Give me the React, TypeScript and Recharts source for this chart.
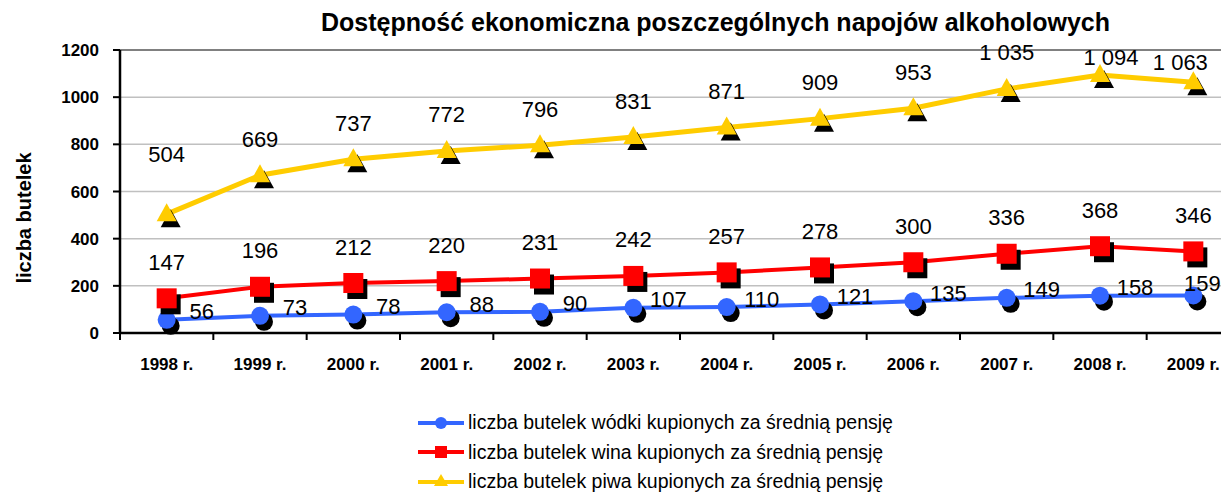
import React from "react";
import {
  CartesianGrid,
  LabelList,
  Line,
  LineChart,
  ReferenceLine,
  XAxis,
  YAxis,
} from "recharts";

const years = ["1998 r.", "1999 r.", "2000 r.", "2001 r.", "2002 r.", "2003 r.", "2004 r.", "2005 r.", "2006 r.", "2007 r.", "2008 r.", "2009 r."];
const vodka = [56, 73, 78, 88, 90, 107, 110, 121, 135, 149, 158, 159];
const wine = [147, 196, 212, 220, 231, 242, 257, 278, 300, 336, 368, 346];
const beer = [504, 669, 737, 772, 796, 831, 871, 909, 953, 1035, 1094, 1063];
const yTicks = [0, 200, 400, 600, 800, 1000, 1200];

const seriesNames = [
  "liczba butelek wódki kupionych za średnią pensję",
  "liczba butelek wina kupionych za średnią pensję",
  "liczba butelek piwa kupionych za średnią pensję",
];

const BLUE = "#3366FF";
const RED = "#FF0000";
const YELLOW = "#FFCC00";
const FONT = "'Liberation Sans', Arial, sans-serif";

const data = years.map((year, i) => ({
  x: i + 0.5,
  year,
  vodka: vodka[i],
  wine: wine[i],
  beer: beer[i],
}));

const fmt = (v: number) => (v >= 1000 ? `${Math.floor(v / 1000)} ${String(v % 1000).padStart(3, "0")}` : String(v));

function Marker({ cx, cy, shape, color }: any) {
  if (cx == null || cy == null) return null;
  const draw = (x: number, y: number, fill: string) => {
    if (shape === "circle") return <circle cx={x} cy={y} r={9} fill={fill} />;
    if (shape === "square") return <rect x={x - 10} y={y - 10} width={20} height={20} fill={fill} />;
    return <polygon points={`${x},${y - 11} ${x + 10},${y + 7} ${x - 10},${y + 7}`} fill={fill} />;
  };
  return (
    <g>
      {draw(cx + 4, cy + 6, "#000")}
      {draw(cx, cy, color)}
    </g>
  );
}

// label nudges that were moved by hand in the original
const beerLabelNudge: Record<number, [number, number]> = { 0: [0, -60], 10: [11, -17], 11: [-13, -20] };

function AboveLabel(props: any) {
  const { x, y, value, index, nudge } = props;
  const [dx, dy] = (nudge && nudge[index]) ?? [0, -36];
  return (
    <text x={x + dx} y={y + dy} textAnchor="middle" dominantBaseline="central" fontFamily={FONT} fontSize={22} fill="#000">
      {fmt(value)}
    </text>
  );
}

function RightLabel(props: any) {
  const { x, y, value, index } = props;
  const last = index === years.length - 1;
  return (
    <text x={x + (last ? 9 : 35)} y={y - (last ? 12 : 8)} textAnchor="middle" dominantBaseline="central" fontFamily={FONT} fontSize={22} fill="#000">
      {fmt(value)}
    </text>
  );
}

function LegendIcon({ shape, color }: { shape: string; color: string }) {
  return (
    <svg width={46} height={20} style={{ display: "block" }}>
      <line x1={0} y1={10} x2={46} y2={10} stroke={color} strokeWidth={4} />
      {shape === "circle" && <circle cx={23} cy={10} r={6} fill={color} />}
      {shape === "square" && <rect x={17} y={4} width={12} height={12} fill={color} />}
      {shape === "triangle" && <polygon points="23,2 30,14 16,14" fill={color} />}
    </svg>
  );
}

export default function App() {
  const legendItems = [
    { name: seriesNames[0], color: BLUE, shape: "circle" },
    { name: seriesNames[1], color: RED, shape: "square" },
    { name: seriesNames[2], color: YELLOW, shape: "triangle" },
  ];
  return (
    <div style={{ position: "absolute", left: 0, top: 0, width: 1221, height: 493, overflow: "hidden", background: "#fff", fontFamily: FONT }}>
      <div style={{ position: "absolute", left: 0, width: 1431, top: 7, textAlign: "center", fontSize: 25, fontWeight: "bold", color: "#000", lineHeight: "30px" }}>
        Dostępność ekonomiczna poszczególnych napojów alkoholowych
      </div>
      <LineChart width={1245} height={493} data={data} margin={{ top: 50, right: 5, bottom: 122, left: 0 }}>
        <CartesianGrid vertical={false} stroke="#C0C0C0" strokeWidth={1.5} />
        <ReferenceLine y={1200} stroke="#808080" strokeWidth={2} />
        <XAxis
          xAxisId="b"
          dataKey="x"
          type="number"
          domain={[0, 12]}
          ticks={data.map((d) => d.x)}
          tickFormatter={(v: number) => years[Math.floor(v)]}
          axisLine={false}
          tickLine={false}
          tickSize={0}
          tickMargin={17}
          height={30}
          tick={{ fill: "#000", fontSize: 17, fontWeight: "bold", fontFamily: FONT }}
        />
        <XAxis
          xAxisId="a"
          dataKey="x"
          type="number"
          domain={[0, 12]}
          ticks={[0, 1, 2, 3, 4, 5, 6, 7, 8, 9, 10, 11, 12]}
          tick={() => <g />}
          tickSize={7}
          height={8}
          axisLine={{ stroke: "#000", strokeWidth: 2.5 }}
          tickLine={{ stroke: "#000", strokeWidth: 2 }}
        />
        <YAxis
          domain={[0, 1200]}
          ticks={yTicks}
          width={120}
          tickSize={7}
          tickMargin={14}
          axisLine={{ stroke: "#000", strokeWidth: 2.5 }}
          tickLine={{ stroke: "#000", strokeWidth: 2 }}
          tick={{ fill: "#000", fontSize: 17, fontWeight: "bold", fontFamily: FONT }}
          label={{
            content: () => (
              <text x={31} y={218} transform="rotate(-90, 31, 218)" textAnchor="middle" fontFamily={FONT} fontSize={20} fontWeight="bold" fill="#000">
                liczba butelek
              </text>
            ),
          }}
        />
        <Line xAxisId="a" dataKey="vodka" stroke={BLUE} strokeWidth={4} isAnimationActive={false} dot={(p: any) => <Marker key={p.index} {...p} shape="circle" color={BLUE} />}>
          <LabelList dataKey="vodka" content={<RightLabel />} />
        </Line>
        <Line xAxisId="a" dataKey="wine" stroke={RED} strokeWidth={4} isAnimationActive={false} dot={(p: any) => <Marker key={p.index} {...p} shape="square" color={RED} />}>
          <LabelList dataKey="wine" content={<AboveLabel />} />
        </Line>
        <Line xAxisId="a" dataKey="beer" stroke={YELLOW} strokeWidth={5} isAnimationActive={false} dot={(p: any) => <Marker key={p.index} {...p} shape="triangle" color={YELLOW} />}>
          <LabelList dataKey="beer" content={<AboveLabel nudge={beerLabelNudge} />} />
        </Line>
      </LineChart>
      <div style={{ position: "absolute", left: 418, top: 408 }}>
        {legendItems.map((it) => (
          <div key={it.name} style={{ display: "flex", alignItems: "center", height: 29.5 }}>
            <LegendIcon shape={it.shape} color={it.color} />
            <span style={{ marginLeft: 4, fontSize: 19.5, color: "#000", whiteSpace: "nowrap" }}>{it.name}</span>
          </div>
        ))}
      </div>
    </div>
  );
}
